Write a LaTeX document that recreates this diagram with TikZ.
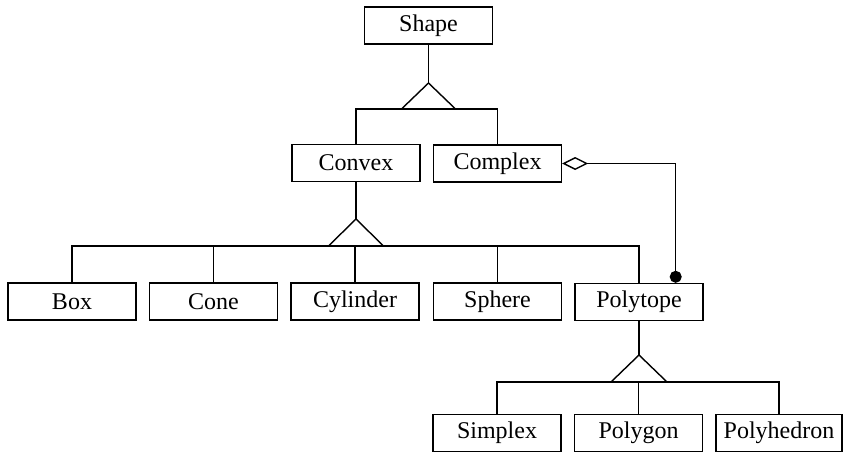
\documentclass[tikz,border=0pt]{standalone}
\usepackage{fontspec}
\setmainfont{Liberation Serif}
\usetikzlibrary{arrows.meta}
\begin{document}
\begin{tikzpicture}[x=1pt,y=-1pt,line width=1.4pt,
  cls/.style={draw,minimum width=128pt,minimum height=37pt,inner sep=0pt,
    font=\fontsize{24}{28}\selectfont},
  tri/.style={line join=miter}]
\useasboundingbox (0,0) rectangle (843,452);
% classes
\node[cls] (shape) at (428.5,25.5) {Shape};
\node[cls] (convex) at (356,163) {Convex};
\node[cls] (complex) at (497.5,163.5) {Complex};
\node[cls] (box) at (72,301.5) {Box};
\node[cls] (cone) at (213.5,301.5) {Cone};
\node[cls] (cyl) at (355,301.5) {Cylinder};
\node[cls] (sphere) at (497.5,301.5) {Sphere};
\node[cls] (poly) at (639,302) {Polytope};
\node[cls] (simplex) at (497,433) {Simplex};
\node[cls] (polygon) at (638.5,433) {Polygon};
\node[cls,minimum width=126pt] (polyh) at (779,433) {Polyhedron};
% generalization 1
\coordinate (a1) at (428.5,83);
\coordinate (b1) at (428.5,109);
\draw (shape.south) -- (a1);
\draw[tri] ([xshift=-27pt]b1) -- (a1) -- ([xshift=27pt]b1);
\draw (convex.north) |- (b1) -| (complex.north);
% generalization 2
\coordinate (a2) at (356,219);
\coordinate (b2) at (356,246);
\draw (convex.south) -- (a2);
\draw[tri] ([xshift=-27.5pt]b2) -- (a2) -- ([xshift=27.5pt]b2);
\draw (box.north) |- (b2) -| (poly.north);
\draw (cone.north) -- (cone.north |- b2);
\draw (cyl.north) -- (cyl.north |- b2);
\draw (sphere.north) -- (sphere.north |- b2);
% generalization 3
\coordinate (a3) at (639,355);
\coordinate (b3) at (639,382);
\draw (poly.south) -- (a3);
\draw[tri] ([xshift=-28pt]b3) -- (a3) -- ([xshift=28pt]b3);
\draw (simplex.north) |- (b3) -| (polyh.north);
\draw (polygon.north) -- (polygon.north |- b3);
% aggregation
\coordinate (pj) at ([xshift=-28pt]poly.north east);
\draw[{Diamond[open,fill=white,length=26pt,width=13pt]}-{Circle[length=12pt]}]
  (complex.east) -| (pj);
\end{tikzpicture}
\end{document}
